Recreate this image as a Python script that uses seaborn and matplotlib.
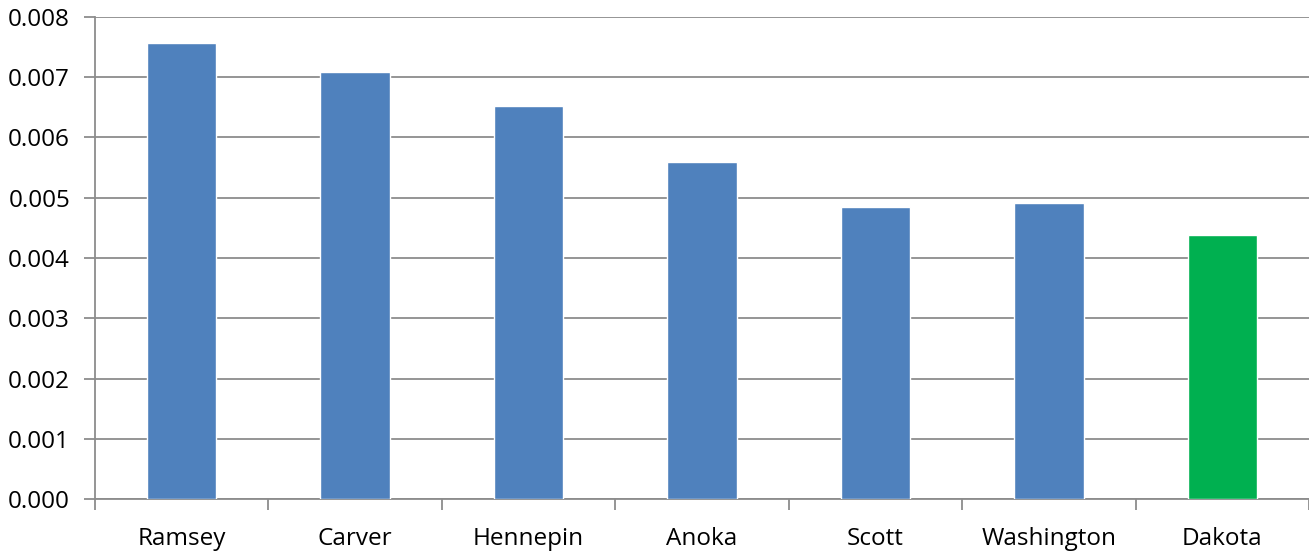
import matplotlib
matplotlib.use("Agg")
import matplotlib.pyplot as plt
import seaborn as sns
import pandas as pd
import numpy as np
from matplotlib.ticker import FixedLocator, MultipleLocator, FormatStrFormatter

counties = ["Ramsey", "Carver", "Hennepin", "Anoka", "Scott", "Washington", "Dakota"]
values = [0.00757, 0.00708, 0.00652, 0.00559, 0.00485, 0.00491, 0.00438]
bar_colors = ["#4F81BD"] * 6 + ["#00B050"]

sns.set_theme(style="white")
plt.rcParams['font.family'] = ['Open Sans', 'DejaVu Sans']

df = pd.DataFrame({"county": counties, "value": values})

fig = plt.figure(figsize=(13.09, 5.52), dpi=100)
ax = fig.add_axes([95/1309, 1 - 499.3/552, 1 - 95/1309, (499.3 - 16.7)/552])

sns.barplot(data=df, x="county", y="value", hue="county", palette=bar_colors,
            width=0.4, legend=False, ax=ax, saturation=1, zorder=3)

ax.set_ylim(0, 0.008)
ax.set_xlim(-0.5, len(counties) - 0.5)
ax.yaxis.set_major_locator(MultipleLocator(0.001))
ax.yaxis.set_major_formatter(FormatStrFormatter("%.3f"))
ax.grid(axis="y", color="#8c8c8c", linewidth=1.3, zorder=0)
ax.set_axisbelow(True)
ax.set_xlabel("")
ax.set_ylabel("")

for side in ["top", "right"]:
    ax.spines[side].set_visible(False)
for side in ["left", "bottom"]:
    ax.spines[side].set_color("#8c8c8c")
    ax.spines[side].set_linewidth(1.3)

ax.xaxis.set_minor_locator(FixedLocator(np.arange(-0.5, len(counties), 1.0)))
ax.tick_params(axis="x", which="major", length=0, labelsize=17.5, pad=20, colors="black")
ax.tick_params(axis="x", which="minor", length=8, width=1.3, color="#8c8c8c", direction="out", bottom=True)
ax.tick_params(axis="y", which="major", length=8, width=1.3, color="#8c8c8c", direction="out",
               labelsize=17.5, pad=10, left=True, labelcolor="black")

fig.savefig("out.png", dpi=100)
